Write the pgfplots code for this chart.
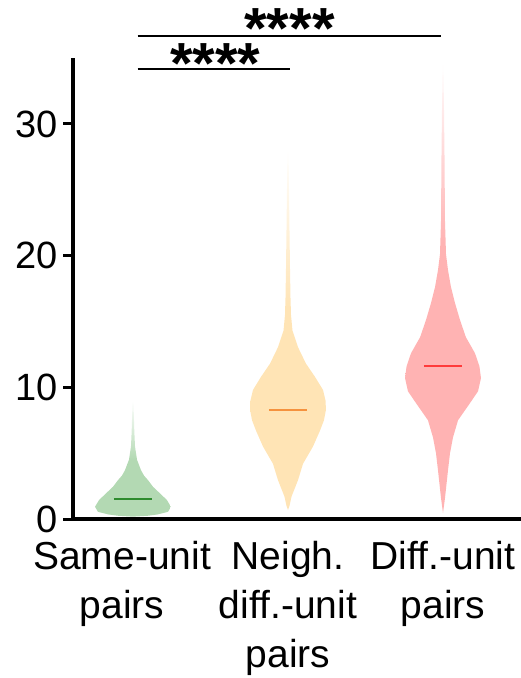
\documentclass[border=0pt]{standalone}
\usepackage{fontspec}
\setmainfont{Liberation Sans}
\usepackage{pgfplots}
\pgfplotsset{compat=1.18}
\usepackage{pgfplotstable}

\definecolor{gfill}{HTML}{B3D9B3}
\definecolor{gmed}{HTML}{2E8B2E}
\definecolor{ofill}{HTML}{FFE4B5}
\definecolor{omed}{HTML}{F5923E}
\definecolor{rfill}{HTML}{FFB3B3}
\definecolor{rmed}{HTML}{FF3B3B}

% vertical shadings: central 25bp..75bp span the violin from bottom to top
\pgfdeclareverticalshading{gshade}{100bp}{color(0bp)=(gfill); color(49.5bp)=(gfill); color(75bp)=(white); color(100bp)=(white)}
\pgfdeclareverticalshading{oshade}{100bp}{color(0bp)=(ofill); color(50.3bp)=(ofill); color(70bp)=(white); color(100bp)=(white)}
\pgfdeclareverticalshading{rshade}{100bp}{color(0bp)=(rfill); color(54.9bp)=(rfill); color(75bp)=(white); color(100bp)=(white)}

% violin outlines: dx = offset from the category centre, y = value
\pgfplotstableread{
dx y
0 0.18
0.097 0.25
0.160 0.35
0.226 0.55
0.245 0.93
0.219 1.44
0.174 1.95
0.129 2.45
0.097 2.95
0.071 3.3
0.052 3.7
0.026 4.5
0.013 5.5
0.0084 6.7
0.0052 8.0
0.0026 9.0
-0.0026 9.0
-0.0052 8.0
-0.0084 6.7
-0.013 5.5
-0.026 4.5
-0.052 3.7
-0.071 3.3
-0.097 2.95
-0.129 2.45
-0.174 1.95
-0.219 1.44
-0.245 0.93
-0.226 0.55
-0.160 0.35
-0.097 0.25
}\green

\pgfplotstableread{
dx y
0 0.68
0.0097 1.0
0.0226 1.7
0.0645 2.95
0.097 4.2
0.161 5.5
0.206 6.7
0.232 7.5
0.245 8.3
0.242 9.0
0.226 9.8
0.174 10.8
0.116 11.8
0.0645 13.05
0.029 14.3
0.0194 15.5
0.0161 16.8
0.0129 19
0.0097 21.9
0.0065 25
0.0039 28
0.0013 31
-0.0013 31
-0.0039 28
-0.0065 25
-0.0097 21.9
-0.0129 19
-0.0161 16.8
-0.0194 15.5
-0.029 14.3
-0.0645 13.05
-0.116 11.8
-0.174 10.8
-0.226 9.8
-0.242 9.0
-0.245 8.3
-0.232 7.5
-0.206 6.7
-0.161 5.5
-0.097 4.2
-0.0645 2.95
-0.0226 1.7
-0.0097 1.0
}\orange

\pgfplotstableread{
dx y
0 0.45
0.0129 1.6
0.0323 3.7
0.0452 5.0
0.0645 6.2
0.097 7.5
0.174 8.8
0.226 9.7
0.245 10.7
0.235 11.6
0.206 12.6
0.148 13.8
0.110 15.1
0.0774 16.4
0.0516 17.6
0.0323 18.9
0.0194 20.1
0.0129 22.6
0.0097 27.6
0.0065 31
0.0019 34.8
-0.0019 34.8
-0.0065 31
-0.0097 27.6
-0.0129 22.6
-0.0194 20.1
-0.0323 18.9
-0.0516 17.6
-0.0774 16.4
-0.110 15.1
-0.148 13.8
-0.206 12.6
-0.235 11.6
-0.245 10.7
-0.226 9.7
-0.174 8.8
-0.097 7.5
-0.0645 6.2
-0.0452 5.0
-0.0323 3.7
-0.0129 1.6
}\red

\newcommand{\lblfont}{\fontsize{39}{49}\selectfont}
\newcommand{\tckfont}{\fontsize{38}{46}\selectfont}
\newcommand{\starfont}{\fontsize{58}{58}\selectfont\bfseries}

\begin{document}
\begin{tikzpicture}
\begin{axis}[
  scale only axis, width=448pt, height=461pt,
  xmin=-0.387, xmax=2.503, ymin=0, ymax=35,
  axis x line=bottom, axis y line=left,
  x axis line style={-, line width=3.5pt},
  y axis line style={-, line width=3.5pt},
  xtick={-0.07,1,2},
  xticklabels={{Same-unit\\pairs},{Neigh.\\diff.-unit\\pairs},{Diff.-unit\\pairs}},
  x tick label style={align=center, font=\lblfont, yshift=-9pt},
  major x tick style={draw=none},
  ytick={0,10,20,30},
  tick align=outside, ytick pos=left,
  major tick length=10pt,
  y tick style={line width=3pt, black},
  y tick label style={font=\tckfont, xshift=-2pt},
  /pgf/number format/assume math mode=true,
  clip=false,
]
% violins
\addplot[shading=gshade, shade, draw=none] table[x expr=0+\thisrow{dx}, y=y]{\green} -- cycle;
\addplot[shading=oshade, shade, draw=none] table[x expr=1+\thisrow{dx}, y=y]{\orange} -- cycle;
\addplot[shading=rshade, shade, draw=none] table[x expr=2+\thisrow{dx}, y=y]{\red} -- cycle;
% medians
\addplot[gmed, line width=2.2pt] coordinates {(-0.123,1.5) (0.123,1.5)};
\addplot[omed, line width=2.2pt] coordinates {(0.877,8.3) (1.123,8.3)};
\addplot[rmed, line width=2.2pt] coordinates {(1.877,11.6) (2.123,11.6)};
% significance brackets
\addplot[black, line width=2pt] coordinates {(0.03,34.2) (1.01,34.2)};
\addplot[black, line width=2pt] coordinates {(0.03,36.7) (1.99,36.7)};
\node[font=\starfont, anchor=base] at (axis cs:0.53,33.1) {****};
\node[font=\starfont, anchor=base] at (axis cs:1.01,35.7) {****};
\coordinate (bbA) at (axis cs:-0.858,-12.07);
\coordinate (bbB) at (axis cs:2.503,39.41);
\end{axis}
\pgfresetboundingbox
\path[use as bounding box] (bbA) rectangle (bbB);
\end{tikzpicture}
\end{document}
